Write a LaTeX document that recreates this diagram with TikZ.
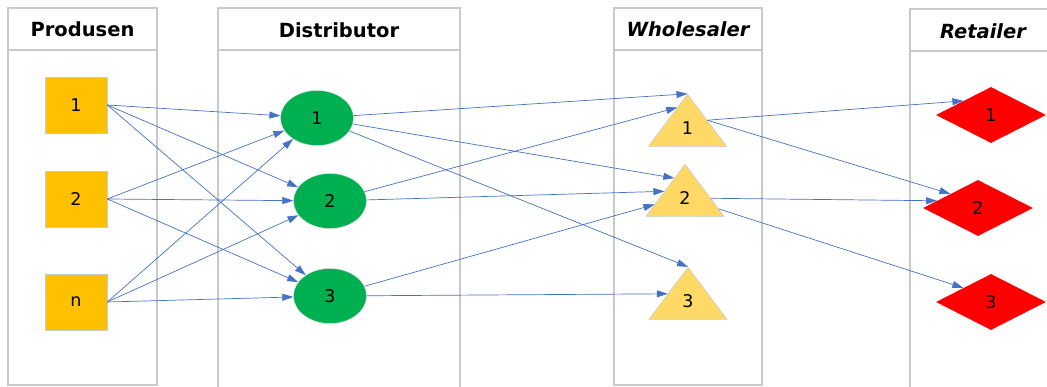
\documentclass[tikz,border=0pt]{standalone}
\usepackage{fontspec}
\setmainfont{DejaVu Sans}
\usetikzlibrary{shapes.geometric,arrows.meta,calc}
\definecolor{linkblue}{HTML}{4472C4}
\definecolor{lanegray}{HTML}{C9C9C9}
\definecolor{prodfill}{HTML}{FFC000}
\definecolor{distfill}{HTML}{00B050}
\definecolor{wholefill}{HTML}{FFD966}
\definecolor{retfill}{HTML}{FF0000}
\tikzset{
  lane/.style={draw=lanegray, line width=1.2pt},
  head/.style={font=\fontsize{19.5}{22}\selectfont\bfseries},
  headit/.style={head, font=\fontsize{19.5}{22}\selectfont\bfseries\itshape},
  num/.style={font=\fontsize{17.5}{20}\selectfont, inner sep=0pt},
  prod/.style={num, rectangle, fill=prodfill, draw=lanegray, line width=0.6pt,
    minimum width=62pt, minimum height=56pt},
  dist/.style={num, ellipse, fill=distfill, draw=lanegray!60, line width=0.4pt,
    minimum width=73pt, minimum height=55pt},
  whole/.style={num, isosceles triangle, isosceles triangle apex angle=74,
    isosceles triangle stretches, shape border rotate=90,
    fill=wholefill, draw=lanegray, line width=0.6pt,
    minimum width=78pt, minimum height=52pt},
  ret/.style={num, diamond, fill=retfill, minimum width=110pt, minimum height=56pt},
  flow/.style={draw=linkblue, line width=0.7pt,
    -{Triangle[length=11pt,width=7pt]}}
}
\begin{document}
\begin{tikzpicture}[x=1pt,y=-1pt]
\useasboundingbox (0,0) rectangle (1047,387);
\clip (0,0) rectangle (1047,387);

% lanes with their header rows
\draw[lane] (8,8) rectangle (157,385);
\draw[lane] (8,50) -- (157,50);
\draw[lane] (218,8) rectangle (460,400);
\draw[lane] (218,50) -- (460,50);
\draw[lane] (614,8) rectangle (762,385);
\draw[lane] (614,50) -- (762,50);
\draw[lane] (910,9) rectangle (1060,400);
\draw[lane] (910,51) -- (1060,51);

\node[head]   (hprod)  at (82.5,29) {Produsen};
\node[head]   (hdist)  at (339,30)  {Distributor};
\node[headit] (hwhole) at (688,29)  {Wholesaler};
\node[headit] (hret)   at (983,31)  {Retailer};

% producers
\node[prod] (p1) at (76,105) {1};
\node[prod] (p2) at (76,199) {2};
\node[prod] (pn) at (76,302) {n};

% distributors
\node[dist] (d1) at (317,118) {1};
\node[dist] (d2) at (330,201) {2};
\node[dist] (d3) at (330,296) {3};

% wholesalers
\node[whole] (w1) at (687.5,128) {1};
\node[whole] (w2) at (685,198) {2};
\node[whole] (w3) at (688,301) {3};

% retailers
\node[ret] (r1) at (991,115) {1};
\node[ret] (r2) at (978,208) {2};
\node[ret] (r3) at (991,302) {3};

% producer -> distributor
\foreach \p in {p1,p2,pn}{
  \foreach \d in {d1,d2,d3}{
    \draw[flow] (\p.east) -- (\d);
  }
}

% distributor -> wholesaler
\draw[flow] (d1) -- (w1.apex);
\draw[flow] (d1) -- ($(w2.apex)!0.27!(w2.left corner)$);
\draw[flow] (d1) -- (w3.apex);
\draw[flow] (d2) -- ($(w1.apex)!0.26!(w1.left corner)$);
\draw[flow] (d2) -- ($(w2.apex)!0.52!(w2.left corner)$);
\draw[flow] (d3) -- ($(w2.apex)!0.77!(w2.left corner)$);
\draw[flow] (d3) -- ($(w3.apex)!0.51!(w3.left corner)$);

% wholesaler -> retailer
\draw[flow] (w1.right side) -- (r1.north west);
\draw[flow] (w1.right side) -- (r2.north west);
\draw[flow] (w2) -- (r2.170);
\draw[flow] (w2) -- (r3.north west);
\end{tikzpicture}
\end{document}
